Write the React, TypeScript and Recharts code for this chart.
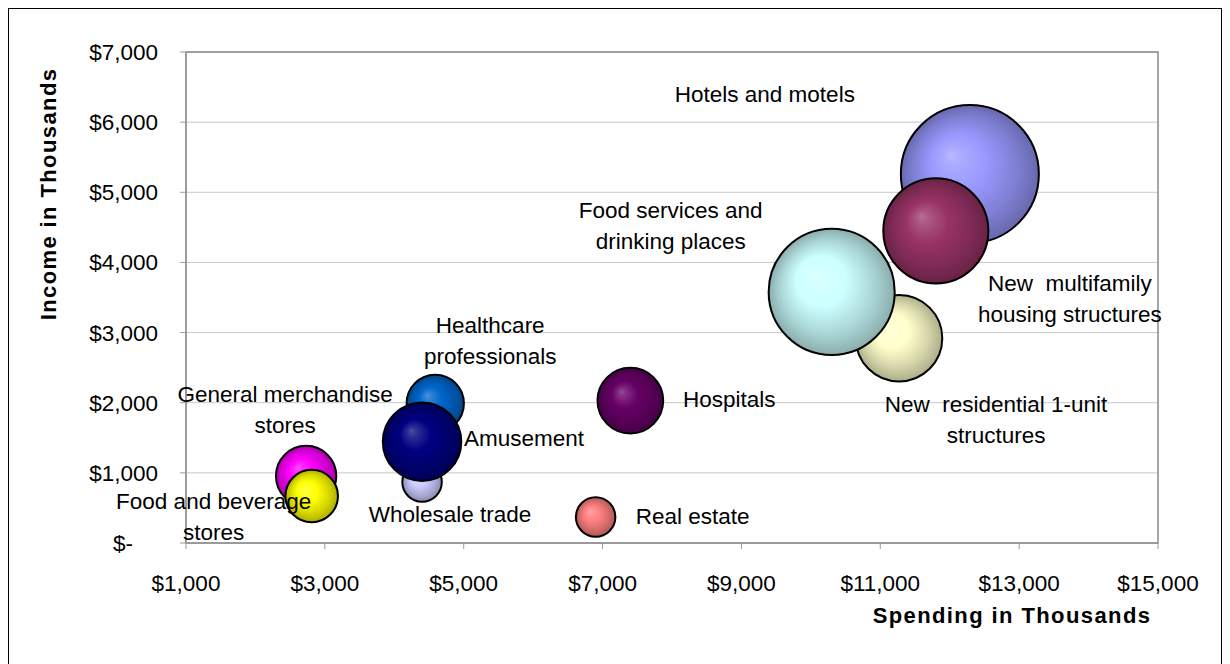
import React from 'react';
import { ScatterChart, Scatter, XAxis, YAxis, ZAxis, CartesianGrid, ReferenceArea } from 'recharts';

// ---------- data ----------
const categories = [
  'Hotels and motels',
  'New multifamily housing structures',
  'New residential 1-unit structures',
  'Food services and drinking places',
  'Hospitals',
  'Real estate',
  'Healthcare professionals',
  'Wholesale trade',
  'Amusement',
  'General merchandise stores',
  'Food and beverage stores',
];
const categoryLines = [
  ['Hotels and motels'],
  ['New  multifamily', 'housing structures'],
  ['New  residential 1-unit', 'structures'],
  ['Food services and', 'drinking places'],
  ['Hospitals'],
  ['Real estate'],
  ['Healthcare', 'professionals'],
  ['Wholesale trade'],
  ['Amusement'],
  ['General merchandise', 'stores'],
  ['Food and beverage', 'stores'],
];
const spending = [12290, 11800, 11270, 10300, 7400, 6900, 4590, 4400, 4400, 2730, 2810];
const income = [5260, 4450, 2920, 3580, 2030, 370, 1990, 870, 1445, 955, 670];
const bubbleSize = [4760, 2760, 1870, 3970, 1080, 390, 820, 390, 1540, 910, 690];

const xTicks = [1000, 3000, 5000, 7000, 9000, 11000, 13000, 15000];
const xTickLabels = ['$1,000', '$3,000', '$5,000', '$7,000', '$9,000', '$11,000', '$13,000', '$15,000'];
const yTicks = [0, 1000, 2000, 3000, 4000, 5000, 6000, 7000];
const yTickLabels = ['$-', '$1,000', '$2,000', '$3,000', '$4,000', '$5,000', '$6,000', '$7,000'];

// ---------- styles ----------
const palette = ['#9999FF', '#993366', '#FFFFCC', '#CCFFFF', '#660066', '#FF8080', '#0066CC', '#CCCCFF', '#000080', '#FF00FF', '#FFFF00'];
// label offset from bubble centre (px): [dx of text centre, dy of first line middle]
const labelOffsets: [number, number][] = [
  [-205, -80],
  [134, 52],
  [97, 66],
  [-161, -82],
  [99, -2],
  [97, -1],
  [55, -78],
  [28, 32],
  [102, -4],
  [-21, -82],
  [-98, 5],
];
const LINE_GAP = 31;
const FONT = '"Liberation Sans", Arial, Helvetica, sans-serif';
const FS = 22.5;
const MAX_R = 69;

const data = categories.map((name, i) => ({ name, x: spending[i], y: income[i], z: bubbleSize[i], idx: i }));

function hexToRgb(h: string) {
  const n = parseInt(h.slice(1), 16);
  return [(n >> 16) & 255, (n >> 8) & 255, n & 255];
}
function mix(h: string, target: number, t: number) {
  const c = hexToRgb(h).map((v) => Math.round(v + (target - v) * t));
  return `rgb(${c[0]},${c[1]},${c[2]})`;
}

const Bubble = (props: any) => {
  const { cx, cy, size, width, payload } = props;
  if (cx == null || cy == null) return null;
  const r = size ? Math.sqrt(size / Math.PI) : (width || 0) / 2;
  const i = payload.idx;
  const c = palette[i];
  const id = `grad-${i}`;
  return (
    <g>
      <defs>
        <radialGradient id={id} cx="50%" cy="50%" r="50%" fx="36%" fy="36%">
          <stop offset="0%" stopColor={mix(c, 255, 0.3)} />
          <stop offset="12%" stopColor={mix(c, 255, 0.18)} />
          <stop offset="40%" stopColor={c} />
          <stop offset="75%" stopColor={mix(c, 0, 0.17)} />
          <stop offset="100%" stopColor={mix(c, 0, 0.32)} />
        </radialGradient>
      </defs>
      <circle cx={cx} cy={cy} r={r} fill={`url(#${id})`} stroke="#000" strokeWidth={2} />
    </g>
  );
};

const BubbleLabel = (props: any) => {
  const { cx, cy, payload } = props;
  if (cx == null || cy == null) return null;
  const i = payload.idx;
  const [dx, dy] = labelOffsets[i];
  return (
    <g>
      {categoryLines[i].map((line, k) => (
        <text
          key={k}
          x={cx + dx}
          y={cy + dy + k * LINE_GAP}
          dy={8}
          textAnchor="middle"
          fontSize={FS}
          fontFamily={FONT}
          fill="#000"
          style={{ whiteSpace: 'pre' }}
        >
          {line}
        </text>
      ))}
    </g>
  );
};

const XTick = (props: any) => {
  const { x, y, payload } = props;
  const i = xTicks.indexOf(payload.value);
  return (
    <text x={x} y={y} dy={42} textAnchor="middle" fontSize={FS} fontFamily={FONT} fill="#000">
      {xTickLabels[i]}
    </text>
  );
};

const YTick = (props: any) => {
  const { x, y, payload } = props;
  const i = yTicks.indexOf(payload.value);
  const shift = payload.value === 0 ? 25 : 0;
  return (
    <text x={x - 22 - shift} y={y} dy={8} textAnchor="end" fontSize={FS} fontFamily={FONT} fill="#000">
      {yTickLabels[i]}
    </text>
  );
};

const XTitle = () => (
  <text x={1003} y={614} textAnchor="middle" fontSize={22} fontWeight="bold" fontFamily={FONT} fill="#000" letterSpacing={1.4}>
    Spending in Thousands
  </text>
);
const YTitle = () => (
  <text
    x={39}
    y={185}
    dy={8}
    textAnchor="middle"
    fontSize={22}
    fontWeight="bold"
    fontFamily={FONT}
    fill="#000"
    letterSpacing={1.4}
    transform="rotate(-90 39 185)"
  >
    Income in Thousands
  </text>
);

export default function App() {
  return (
    <div style={{ width: 1212, height: 680, border: '1px solid #000', background: '#fff', position: 'relative' }}>
      <style>{'body{overflow:hidden;}'}</style>
      <ScatterChart width={1212} height={660} margin={{ top: 43, right: 63, bottom: 0, left: 0 }}>
        <CartesianGrid horizontal vertical={false} stroke="#C8C8C8" strokeWidth={1} />
        <ReferenceArea x1={1000} x2={15000} y1={0} y2={7000} fill="none" stroke="#8A8A8A" strokeWidth={1.5} />
        <XAxis
          type="number"
          dataKey="x"
          domain={[1000, 15000]}
          ticks={xTicks}
          interval={0}
          height={126}
          tickSize={6}
          tickMargin={0}
          tick={<XTick />}
          tickLine={{ stroke: '#999' }}
          axisLine={{ stroke: '#999', strokeWidth: 1.5 }}
          label={<XTitle />}
        />
        <YAxis
          type="number"
          dataKey="y"
          domain={[0, 7000]}
          ticks={yTicks}
          interval={0}
          width={177}
          tickSize={6}
          tickMargin={0}
          tick={<YTick />}
          tickLine={{ stroke: '#999' }}
          axisLine={{ stroke: '#999', strokeWidth: 1.5 }}
          label={<YTitle />}
        />
        <ZAxis type="number" dataKey="z" domain={[0, Math.max(...bubbleSize)]} range={[0, Math.PI * MAX_R * MAX_R]} />
        <Scatter data={data} shape={<Bubble />} isAnimationActive={false} />
        <Scatter data={data} shape={<BubbleLabel />} isAnimationActive={false} />
      </ScatterChart>
    </div>
  );
}
